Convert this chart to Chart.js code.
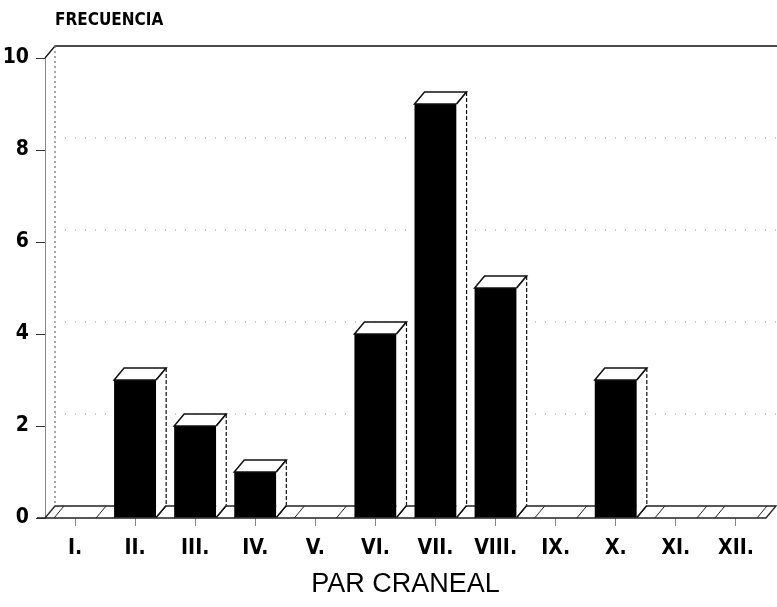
<!DOCTYPE html>
<html>
<head>
<meta charset="utf-8">
<script src="https://cdn.jsdelivr.net/npm/chart.js@4"></script>
<style>
  html, body { margin: 0; padding: 0; background: #fff; }
  #wrap { width: 777px; height: 607px; }
</style>
</head>
<body>
<div id="wrap"><canvas id="paresChart" width="777" height="607"></canvas></div>
<script>
const pares = ['I.', 'II.', 'III.', 'IV.', 'V.', 'VI.', 'VII.', 'VIII.', 'IX.', 'X.', 'XI.', 'XII.'];
const frecuencia = [0, 3, 2, 1, 0, 4, 9, 5, 0, 3, 0, 0];
const yTicks = [0, 2, 4, 6, 8, 10];

const DX = 10, DY = -12;
const labelFont = "'DejaVu Sans Condensed', 'Liberation Sans', Arial, sans-serif";

// back wall, floor and the 3D faces of each bar
const depth3d = {
  id: 'depth3d',
  beforeDatasetsDraw(chart) {
    const { ctx, chartArea: a, scales: { y } } = chart;
    const top = y.getPixelForValue(10), base = y.getPixelForValue(0);
    ctx.save();
    ctx.strokeStyle = '#111';
    ctx.lineWidth = 1.3;
    // back wall top edge
    ctx.beginPath();
    ctx.moveTo(a.left, top);
    ctx.lineTo(a.left + DX, top + DY);
    ctx.lineTo(chart.width, top + DY);
    ctx.stroke();
    // back wall left edge (dotted)
    ctx.setLineDash([2, 3]);
    ctx.strokeStyle = '#777';
    ctx.beginPath();
    ctx.moveTo(a.left + DX, top + DY);
    ctx.lineTo(a.left + DX, base + DY);
    ctx.stroke();
    // faint grid on back wall
    ctx.strokeStyle = '#bbb';
    ctx.setLineDash([1, 9]);
    yTicks.slice(1, -1).forEach(v => {
      const py = y.getPixelForValue(v) + DY;
      ctx.beginPath();
      ctx.moveTo(a.left + DX, py);
      ctx.lineTo(a.right + DX, py);
      ctx.stroke();
    });
    ctx.setLineDash([]);
    // floor band
    ctx.strokeStyle = '#222';
    ctx.fillStyle = '#fff';
    ctx.beginPath();
    ctx.moveTo(a.left - 8, base);
    ctx.lineTo(a.right, base);
    ctx.lineTo(a.right + DX, base + DY);
    ctx.lineTo(a.left + DX, base + DY);
    ctx.lineTo(a.left, base);
    ctx.fill();
    ctx.stroke();
    const meta = chart.getDatasetMeta(0);
    ctx.lineWidth = 1;
    meta.data.forEach(bar => {
      const L = bar.x - bar.width / 2, R = bar.x + bar.width / 2;
      [L, R].forEach(px => {
        ctx.beginPath();
        ctx.moveTo(px, base);
        ctx.lineTo(px + DX, base + DY);
        ctx.stroke();
      });
    });
    ctx.restore();
  },
  afterDatasetsDraw(chart) {
    const { ctx } = chart;
    const meta = chart.getDatasetMeta(0);
    ctx.save();
    ctx.strokeStyle = '#111';
    ctx.fillStyle = '#fff';
    ctx.lineWidth = 1.5;
    meta.data.forEach((bar, i) => {
      if (!frecuencia[i]) return;
      const L = bar.x - bar.width / 2, R = bar.x + bar.width / 2;
      const t = bar.y, b = bar.base;
      // top face
      ctx.beginPath();
      ctx.moveTo(L, t);
      ctx.lineTo(L + DX, t + DY);
      ctx.lineTo(R + DX, t + DY);
      ctx.lineTo(R, t);
      ctx.closePath();
      ctx.fill();
      ctx.stroke();
      // side face
      ctx.beginPath();
      ctx.moveTo(R, t);
      ctx.lineTo(R + DX, t + DY);
      ctx.lineTo(R + DX, b + DY);
      ctx.lineTo(R, b);
      ctx.closePath();
      ctx.fill();
      ctx.beginPath();
      ctx.moveTo(R + DX, b + DY);
      ctx.lineTo(R, b);
      ctx.moveTo(R + DX, t + DY);
      ctx.lineTo(R, t);
      ctx.stroke();
      ctx.save();
      ctx.setLineDash([4, 2]);
      ctx.lineWidth = 1.2;
      ctx.beginPath();
      ctx.moveTo(R + DX, t + DY);
      ctx.lineTo(R + DX, b + DY);
      ctx.stroke();
      ctx.restore();
    });
    // y-axis caption
    ctx.fillStyle = '#000';
    ctx.font = "bold 17px " + labelFont;
    ctx.textBaseline = 'middle';
    ctx.textAlign = 'left';
    ctx.fillText('FRECUENCIA', 55, 21);
    ctx.restore();
  }
};

new Chart(document.getElementById('paresChart'), {
  type: 'bar',
  data: {
    labels: pares,
    datasets: [{
      data: frecuencia,
      backgroundColor: '#000',
      borderWidth: 0,
      barPercentage: 0.7,
      categoryPercentage: 1
    }]
  },
  options: {
    responsive: false,
    animation: false,
    layout: { padding: { top: 58, right: 11, left: 0, bottom: 0 } },
    plugins: {
      legend: { display: false },
      tooltip: { enabled: false }
    },
    scales: {
      x: {
        afterFit: s => { s.height = 89; },
        grid: { drawOnChartArea: false, offset: false, tickLength: 8, color: '#888' },
        border: { display: false },
        ticks: { color: '#000', padding: 10, font: { family: labelFont, size: 21, weight: 'bold' } },
        title: {
          display: true,
          text: 'PAR CRANEAL',
          color: '#000',
          padding: { top: 2, bottom: 6 },
          font: { family: "'Liberation Sans', Arial, sans-serif", size: 27 }
        }
      },
      y: {
        min: 0,
        max: 10,
        afterFit: s => { s.width = 45; },
        afterBuildTicks: s => { s.ticks = yTicks.map(v => ({ value: v })); },
        grid: { drawOnChartArea: false, tickLength: 9, color: '#333' },
        border: { display: true, dash: [2, 3], color: '#888' },
        ticks: { color: '#000', padding: 7, font: { family: labelFont, size: 21, weight: 'bold' } }
      }
    }
  },
  plugins: [depth3d]
});
</script>
</body>
</html>
